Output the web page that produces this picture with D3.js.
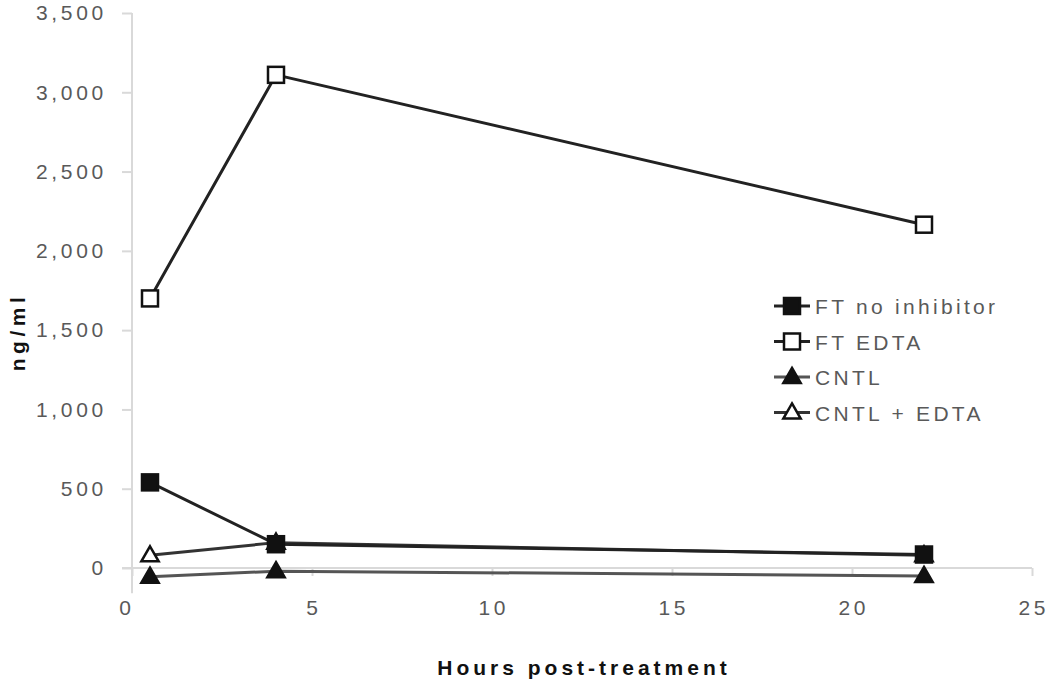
<!DOCTYPE html>
<html><head><meta charset="utf-8">
<script src="https://cdn.jsdelivr.net/npm/d3@7"></script>
<style>body{margin:0;background:#fff;} text{font-family:Arial,"Liberation Sans",sans-serif;}</style>
</head><body><svg id="c" width="1050" height="685"></svg>
<script>
const hours = [0.5, 4, 22];
const ftNoInhibitor = [540, 150, 85];
const ftEdta = [1700, 3110, 2165];
const cntl = [-55, -20, -50];
const cntlEdta = [80, 160, 80];
const seriesNames = ["FT no inhibitor", "FT EDTA", "CNTL", "CNTL + EDTA"];
const yTicks = [0, 500, 1000, 1500, 2000, 2500, 3000, 3500];
const xTicks = [0, 5, 10, 15, 20, 25];

const svg = d3.select("#c");
const x = d3.scaleLinear().domain([0, 25]).range([132, 1032]);
const y = d3.scaleLinear().domain([0, 3500]).range([568, 13]);
const yBottom = -160;
const axisCol = "#d9d9d9", labCol = "#595959";
const FS = 21, LS = 3.7;

// y axis
const ya = svg.append("g").attr("transform", `translate(${x(0)},0)`)
  .call(d3.axisLeft(y).tickValues(yTicks).tickSize(10).tickPadding(15).tickFormat(d3.format(",")));
ya.select(".domain").remove();
ya.append("line").attr("x1",0).attr("x2",0).attr("y1",y(3500)).attr("y2",y(yBottom)).attr("stroke",axisCol).attr("stroke-width",2);
ya.selectAll(".tick line").attr("stroke",axisCol).attr("stroke-width",2);
ya.selectAll(".tick text").attr("fill",labCol).attr("font-size",FS).attr("letter-spacing",LS)
  .attr("font-family","Arial, Liberation Sans, sans-serif");

// x axis at y=0
const xa = svg.append("g").attr("transform", `translate(0,${y(0)})`)
  .call(d3.axisBottom(x).tickValues(xTicks).tickSize(8).tickFormat(""));
xa.select(".domain").remove();
xa.append("line").attr("x1",x(0)-10).attr("x2",x(25)).attr("y1",0).attr("y2",0).attr("stroke",axisCol).attr("stroke-width",2);
xa.selectAll(".tick line").attr("stroke",axisCol).attr("stroke-width",2);
svg.append("g").selectAll("text").data(xTicks).join("text")
  .attr("x", d => x(d) + LS/2 - (d===0?7:0)).attr("y", 615).attr("text-anchor","middle")
  .attr("fill",labCol).attr("font-size",FS).attr("letter-spacing",LS).text(d => d);

// axis titles
svg.append("text").attr("transform","translate(25,332) rotate(-90)").attr("text-anchor","middle")
  .attr("font-weight","bold").attr("font-size",FS).attr("letter-spacing",4.5).attr("fill","#111").text("ng/ml");
svg.append("text").attr("x",584).attr("y",675).attr("text-anchor","middle")
  .attr("font-weight","bold").attr("font-size",FS).attr("letter-spacing",4).attr("fill","#111").text("Hours post-treatment");

const series = [
  {name: seriesNames[0], vals: ftNoInhibitor, shape: "square", fill: "#111", line: "#222"},
  {name: seriesNames[1], vals: ftEdta, shape: "square", fill: "#fff", line: "#222"},
  {name: seriesNames[2], vals: cntl, shape: "triangle", fill: "#111", line: "#555"},
  {name: seriesNames[3], vals: cntlEdta, shape: "triangle", fill: "#fff", line: "#333"}
];
const line = d3.line().x(d => x(d[0])).y(d => y(d[1]));
function marker(g, s, cx, cy) {
  if (s.shape === "square") {
    g.append("rect").attr("x",cx-8).attr("y",cy-8).attr("width",16).attr("height",16)
      .attr("fill",s.fill).attr("stroke","#111").attr("stroke-width",2.5);
  } else {
    g.append("path").attr("d", d3.symbol(d3.symbolTriangle, 130)()).attr("transform",`translate(${cx},${cy+1})`)
      .attr("fill",s.fill).attr("stroke","#111").attr("stroke-width",2.5);
  }
}
const plot = svg.append("g");
[2,3,0,1].forEach(i => {
  const s = series[i];
  const pts = hours.map((h,k) => [h, s.vals[k]]);
  plot.append("path").attr("d", line(pts)).attr("fill","none").attr("stroke",s.line).attr("stroke-width",3);
  pts.forEach(p => marker(plot, s, x(p[0]), y(p[1])));
});

// legend
const leg = svg.append("g");
series.forEach((s,i) => {
  const ly = 306 + i*35.5;
  leg.append("line").attr("x1",774).attr("x2",810).attr("y1",ly).attr("y2",ly).attr("stroke",s.line).attr("stroke-width",3);
  marker(leg, s, 792, ly);
  leg.append("text").attr("x",815).attr("y",ly+8).attr("fill",labCol).attr("font-size",FS).attr("letter-spacing",3.3).text(s.name);
});
</script></body></html>
